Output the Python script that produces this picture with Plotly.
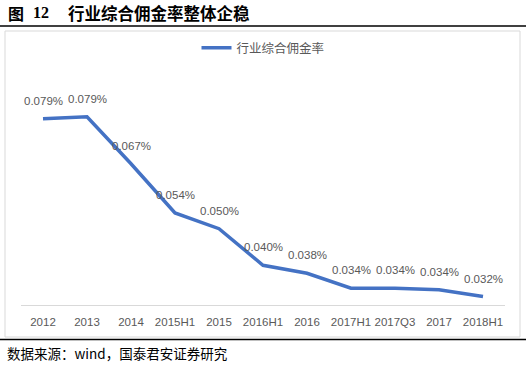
import plotly.graph_objects as go

categories = ["2012", "2013", "2014", "2015H1", "2015", "2016H1", "2016",
              "2017H1", "2017Q3", "2017", "2018H1"]
commission_rate = [0.0788, 0.0793, 0.0670, 0.0541, 0.0500, 0.0404, 0.0383,
                   0.0344, 0.0344, 0.0340, 0.0322]
series_name = "行业综合佣金率"
title_num = "12"
title_text = "行业综合佣金率整体企稳"
source_text = "数据来源：wind，国泰君安证券研究"

W, H = 526, 368
L, R, T, B = 21, 505, 76, 305


def px(x):
    return (x - L) / (R - L)


def py(y):
    return (B - y) / (B - T)


fig = go.Figure()
fig.add_trace(go.Scatter(
    x=categories, y=commission_rate, mode="lines", name=series_name,
    line=dict(color="#4472C4", width=3.5), showlegend=True,
))

label_font = dict(family="Liberation Sans, Arial, sans-serif", size=11.5, color="#595959")
for i, v in enumerate(commission_rate):
    fig.add_annotation(x=i, y=v, text=f"{v:.3f}%", showarrow=False,
                       yshift=18, font=label_font)

# title
fig.add_annotation(xref="paper", yref="paper", x=px(6), y=py(13), xanchor="left",
                   yanchor="middle", showarrow=False, text="<b>图</b>",
                   font=dict(family="Noto Sans CJK SC", size=16, color="black"))
fig.add_annotation(xref="paper", yref="paper", x=px(31), y=py(13), xanchor="left",
                   yanchor="middle", showarrow=False, text=f"<b>{title_num}</b>",
                   font=dict(family="Liberation Serif", size=16, color="black"))
fig.add_annotation(xref="paper", yref="paper", x=px(66), y=py(13), xanchor="left",
                   yanchor="middle", showarrow=False, text=f"<b>{title_text}</b>",
                   font=dict(family="Noto Sans CJK SC", size=16.5, color="black"))
# source
fig.add_annotation(xref="paper", yref="paper", x=px(5), y=py(353), xanchor="left",
                   yanchor="middle", showarrow=False, text=source_text,
                   font=dict(family="Noto Sans CJK SC", size=13.5, color="black"))

shapes = [
    dict(type="line", xref="paper", yref="paper", x0=px(0), x1=px(526),
         y0=py(26), y1=py(26), line=dict(color="black", width=1.5)),
    dict(type="rect", xref="paper", yref="paper", x0=px(5), x1=px(520),
         y0=py(31), y1=py(337), line=dict(color="#D9D9D9", width=1)),
    dict(type="line", xref="paper", yref="paper", x0=px(0), x1=px(526),
         y0=py(339.5), y1=py(339.5), line=dict(color="black", width=1.5)),
]

fig.update_layout(
    width=W, height=H,
    margin=dict(l=L, r=W - R, t=T, b=H - B),
    paper_bgcolor="white", plot_bgcolor="white",
    shapes=shapes,
    legend=dict(orientation="h", x=0.5, xanchor="center", y=py(48), yanchor="middle",
                font=dict(family="Noto Sans CJK SC", size=12.5, color="#595959"),
                bgcolor="rgba(0,0,0,0)"),
    xaxis=dict(type="category", range=[-0.5, len(categories) - 0.5],
               showgrid=False, showline=True, linecolor="#D9D9D9", linewidth=1,
               ticks="", ticklabelstandoff=6,
               tickfont=dict(family="Liberation Sans, Arial, sans-serif",
                             size=11.5, color="#595959"),
               zeroline=False, fixedrange=True),
    yaxis=dict(range=[0.03, 0.09], visible=False, showgrid=False, zeroline=False,
               fixedrange=True),
)

fig.write_html("out.html", config={"displayModeBar": False},
               post_script="document.body.style.margin='0';document.body.style.overflow='hidden';")
